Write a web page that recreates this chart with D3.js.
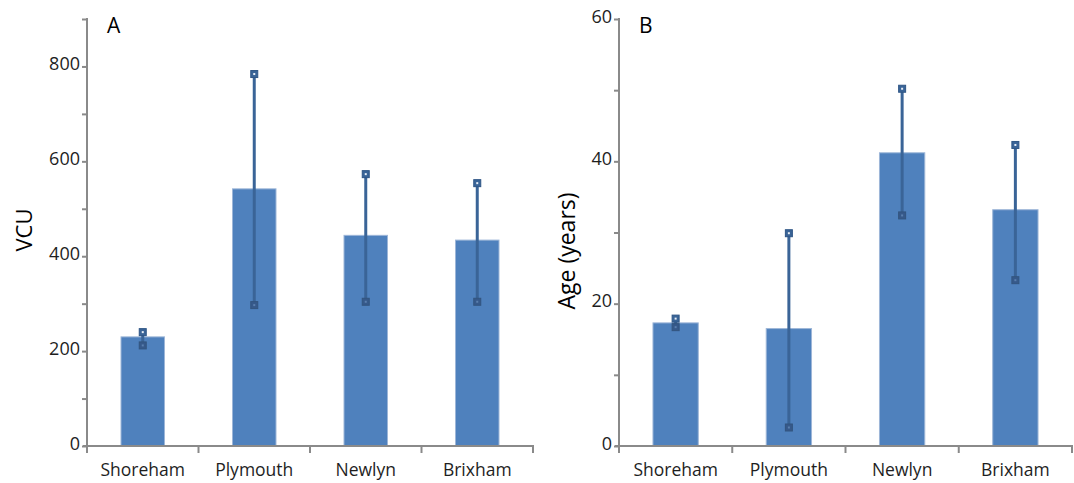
<!DOCTYPE html>
<html>
<head>
<meta charset="utf-8">
<script src="https://cdn.jsdelivr.net/npm/d3@7"></script>
<style>
  html, body { margin: 0; padding: 0; background: #fff; }
  svg { display: block; font-family: "Open Sans", "Noto Sans", sans-serif; }
</style>
</head>
<body>
<svg id="chart" width="1074" height="483"></svg>
<script>
// Ports sampled
const ports = ["Shoreham", "Plymouth", "Newlyn", "Brixham"];

// Panel A: VCU (mean with lower / upper error limits)
const vcuMean = [230, 542, 444, 434];
const vcuLow  = [212, 297, 304, 304];
const vcuHigh = [240, 784, 573, 554];
const vcuTicks = [0, 200, 400, 600, 800];
const vcuMinorTicks = [100, 300, 500, 700, 900];

// Panel B: age in years (mean with lower / upper error limits)
const ageMean = [17.3, 16.5, 41.2, 33.2];
const ageLow  = [16.7, 2.6, 32.4, 23.3];
const ageHigh = [17.9, 29.9, 50.2, 42.3];
const ageTicks = [0, 20, 40, 60];
const ageMinorTicks = [10, 30, 50];

const svg = d3.select("#chart");
const AXIS = "#8a8a8a";
const BAR = "#4f81bd";
const ERR = "#3a6497";

function drawPanel(opts) {
  const g = svg.append("g");
  const x = d3.scaleBand()
    .domain(ports)
    .range([opts.left, opts.right])
    .paddingInner(opts.gap)
    .paddingOuter(opts.gap / 2);
  const y = d3.scaleLinear()
    .domain([0, opts.max])
    .range([opts.bottom, opts.top]);

  // bars
  g.selectAll("rect.bar")
    .data(ports)
    .join("rect")
    .attr("class", "bar")
    .attr("x", d => x(d))
    .attr("width", x.bandwidth())
    .attr("y", (d, i) => y(opts.mean[i]))
    .attr("height", (d, i) => y(0) - y(opts.mean[i]))
    .attr("fill", BAR)
    .attr("stroke", "#9db6d8")
    .attr("stroke-width", 1);

  // error bars
  const cx = d => x(d) + x.bandwidth() / 2;
  g.selectAll("line.err")
    .data(ports)
    .join("line")
    .attr("x1", cx).attr("x2", cx)
    .attr("y1", (d, i) => y(opts.low[i]))
    .attr("y2", (d, i) => y(opts.high[i]))
    .attr("stroke", ERR)
    .attr("stroke-width", 3);

  const ends = [];
  ports.forEach((p, i) => {
    ends.push({ p, v: opts.high[i], top: true });
    ends.push({ p, v: opts.low[i], top: false });
  });
  g.selectAll("rect.cap")
    .data(ends)
    .join("rect")
    .attr("x", d => cx(d.p) - 3.5)
    .attr("y", d => y(d.v) - 3.5)
    .attr("width", 7).attr("height", 7)
    .attr("fill", d => d.top ? ERR : "#36598a")
    .attr("stroke", d => d.top ? "#2f5686" : "#33557f")
    .attr("stroke-width", 1);
  g.selectAll("rect.dot")
    .data(ends)
    .join("rect")
    .attr("x", d => cx(d.p) - 1)
    .attr("y", d => y(d.v) - 1)
    .attr("width", 2).attr("height", 2)
    .attr("fill", d => d.top ? "#e8eef6" : "#5a7fae");

  // y axis
  const minor = new Set(opts.minor);
  const yAxis = d3.axisLeft(y)
    .tickValues(opts.ticks.concat(opts.minor))
    .tickSize(5)
    .tickPadding(2)
    .tickFormat(v => minor.has(v) ? "" : d3.format("d")(v));
  const ya = g.append("g")
    .attr("transform", `translate(${opts.left},0)`)
    .call(yAxis);
  ya.select(".domain").remove();
  ya.selectAll(".tick line").attr("stroke", AXIS).attr("stroke-width", 2);
  ya.selectAll(".tick text")
    .attr("dy", "0.17em")
    .attr("fill", "#1e1e1e")
    .style("font-size", "18px")
    .style("font-family", "'Open Sans', sans-serif");
  g.append("line")
    .attr("x1", opts.left).attr("x2", opts.left)
    .attr("y1", opts.top - 1).attr("y2", opts.bottom + 7)
    .attr("stroke", AXIS).attr("stroke-width", 2);

  // x axis: baseline with boundary ticks and centred category names
  g.append("line")
    .attr("x1", opts.left - 4).attr("x2", opts.right + 1)
    .attr("y1", opts.bottom).attr("y2", opts.bottom)
    .attr("stroke", AXIS).attr("stroke-width", 2);
  const bounds = ports.map(p => x(p) - x.step() * x.paddingOuter()).concat([opts.right]);
  g.selectAll("line.xt")
    .data(bounds.slice(1))
    .join("line")
    .attr("x1", d => d).attr("x2", d => d)
    .attr("y1", opts.bottom).attr("y2", opts.bottom + 7)
    .attr("stroke", AXIS).attr("stroke-width", 2);
  const xa = g.append("g")
    .attr("transform", `translate(0,${opts.bottom})`)
    .call(d3.axisBottom(x).tickSize(0).tickPadding(18));
  xa.select(".domain").remove();
  xa.selectAll(".tick text")
    .attr("fill", "#1e1e1e")
    .style("font-size", "17.5px")
    .style("font-family", "'Open Sans', sans-serif");

  // axis title and panel letter
  g.append("text")
    .attr("transform", `translate(${opts.titleX},${opts.titleY}) rotate(-90)`)
    .attr("text-anchor", "middle")
    .style("font-size", opts.titleSize)
    .attr("fill", "#000")
    .text(opts.title);
  g.append("text")
    .attr("x", opts.left + 20)
    .attr("y", 33)
    .style("font-size", "21px")
    .attr("fill", "#000")
    .text(opts.letter);
}

drawPanel({
  left: 87, right: 533, top: 19, bottom: 446, max: 900, gap: 0.61,
  mean: vcuMean, low: vcuLow, high: vcuHigh,
  ticks: vcuTicks, minor: vcuMinorTicks,
  title: "VCU", titleX: 32, titleY: 230, titleSize: "22px", letter: "A"
});

drawPanel({
  left: 619, right: 1072, top: 19, bottom: 446, max: 60, gap: 0.6,
  mean: ageMean, low: ageLow, high: ageHigh,
  ticks: ageTicks, minor: ageMinorTicks,
  title: "Age (years)", titleX: 575, titleY: 251, titleSize: "23px", letter: "B"
});
</script>
</body>
</html>
